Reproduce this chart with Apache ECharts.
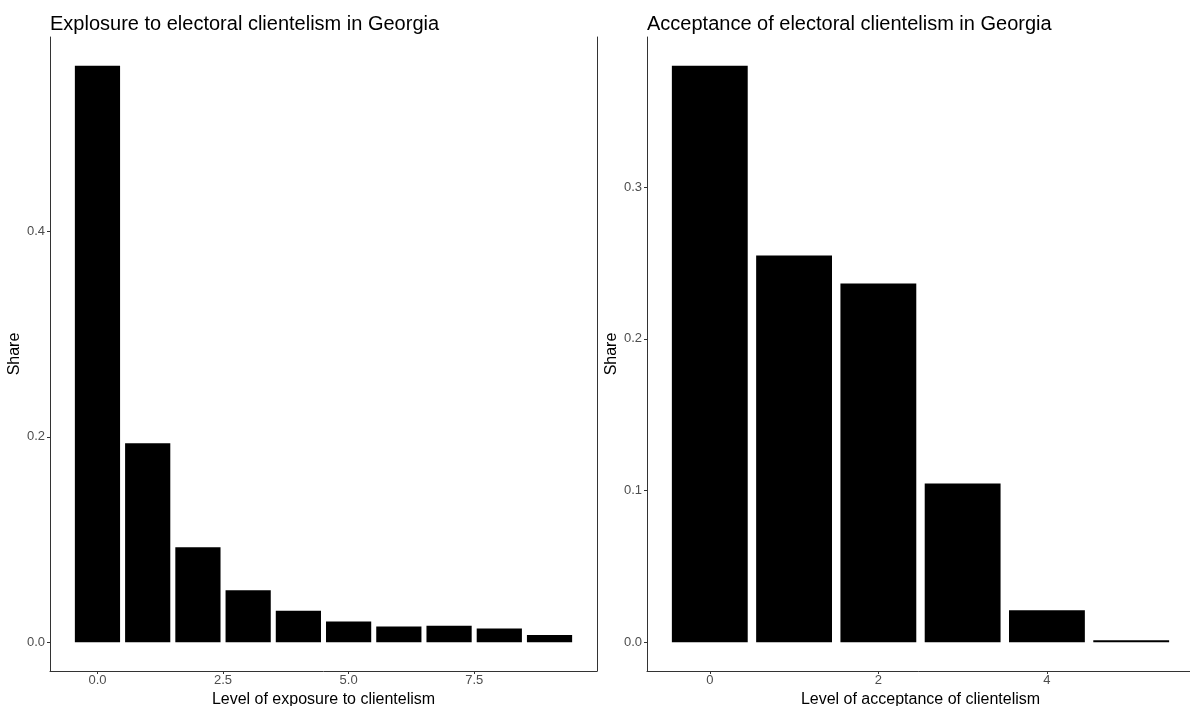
<!DOCTYPE html>
<html>
<head>
<meta charset="utf-8">
<script src="https://cdn.jsdelivr.net/npm/echarts@6/dist/echarts.min.js"></script>
<style>
html,body{margin:0;padding:0;background:#fff;}
#chart{width:1190px;height:706px;}
</style>
</head>
<body>
<div id="chart"></div>
<script>
// Left panel: exposure
const exposureLevels = [0, 1, 2, 3, 4, 5, 6, 7, 8, 9];
const exposureShare = [0.5615, 0.1937, 0.0925, 0.0506, 0.0305, 0.0201, 0.0153, 0.0159, 0.0133, 0.0071];
const exposureXTicks = [0, 2.5, 5, 7.5];
const exposureYTicks = [0, 0.2, 0.4];

// Right panel: acceptance
const acceptanceLevels = [0, 1, 2, 3, 4, 5];
const acceptanceShare = [0.380, 0.255, 0.2365, 0.1047, 0.0211, 0.0013];
const acceptanceXTicks = [0, 2, 4];
const acceptanceYTicks = [0, 0.1, 0.2, 0.3];

const titles = ['Explosure to electoral clientelism in Georgia', 'Acceptance of electoral clientelism in Georgia'];
const xTitles = ['Level of exposure to clientelism', 'Level of acceptance of clientelism'];
const yTitle = 'Share';

const FONT = '"Liberation Sans", Arial, Helvetica, sans-serif';
const BAR_HALF = 0.45;

function pad(lo, hi) { const r = hi - lo; return [lo - 0.05 * r, hi + 0.05 * r]; }

const exX = pad(-BAR_HALF, exposureLevels[exposureLevels.length - 1] + BAR_HALF);
const exY = pad(0, Math.max(...exposureShare));
const acX = pad(-BAR_HALF, acceptanceLevels[acceptanceLevels.length - 1] + BAR_HALF);
const acY = pad(0, Math.max(...acceptanceShare));

function renderBar(params, api) {
  const x = api.value(0), y = api.value(1);
  const p0 = api.coord([x - BAR_HALF, y]);
  const p1 = api.coord([x + BAR_HALF, 0]);
  return {
    type: 'rect',
    shape: { x: p0[0], y: p0[1], width: p1[0] - p0[0], height: p1[1] - p0[1] },
    style: { fill: '#000000' }
  };
}

function xAxisDef(gridIndex, ext, ticks, decimals, name) {
  return {
    type: 'value', gridIndex: gridIndex, min: ext[0], max: ext[1],
    name: name, nameLocation: 'middle', nameGap: 19,
    nameTextStyle: { fontFamily: FONT, fontSize: 16, color: '#000' },
    axisLine: { show: true, onZero: false, lineStyle: { color: '#333', width: 1 } },
    axisTick: { show: true, customValues: ticks, length: 3, lineStyle: { color: '#333' } },
    axisLabel: { show: true, customValues: ticks, margin: 3, fontFamily: FONT, fontSize: 13, color: '#4d4d4d',
      formatter: v => Number(v).toFixed(decimals) },
    splitLine: { show: false }
  };
}
function yAxisDef(gridIndex, ext, ticks, name) {
  return {
    type: 'value', gridIndex: gridIndex, min: ext[0], max: ext[1],
    name: name, nameLocation: 'middle', nameGap: 25,
    nameTextStyle: { fontFamily: FONT, fontSize: 16, color: '#000' },
    axisLine: { show: true, onZero: false, lineStyle: { color: '#333', width: 1 } },
    axisTick: { show: true, customValues: ticks, length: 3, lineStyle: { color: '#333' } },
    axisLabel: { show: true, customValues: ticks, margin: 5, fontFamily: FONT, fontSize: 13, color: '#4d4d4d',
      formatter: v => Number(v).toFixed(1) },
    splitLine: { show: false }
  };
}

const chart = echarts.init(document.getElementById('chart'), null, { renderer: 'canvas' });
chart.setOption({
  backgroundColor: '#ffffff',
  animation: false,
  title: [
    { text: titles[0], left: 45, top: 9, textStyle: { fontFamily: FONT, fontSize: 20, fontWeight: 'normal', color: '#000' } },
    { text: titles[1], left: 642, top: 9, textStyle: { fontFamily: FONT, fontSize: 20, fontWeight: 'normal', color: '#000' } }
  ],
  grid: [
    { left: 50, right: 593, top: 37, bottom: 35, outerBoundsMode: 'none', containLabel: false },
    { left: 647, right: -4, top: 37, bottom: 35, outerBoundsMode: 'none', containLabel: false }
  ],
  xAxis: [
    xAxisDef(0, exX, exposureXTicks, 1, xTitles[0]),
    xAxisDef(1, acX, acceptanceXTicks, 0, xTitles[1])
  ],
  yAxis: [
    yAxisDef(0, exY, exposureYTicks, yTitle),
    yAxisDef(1, acY, acceptanceYTicks, yTitle),
    { type: 'value', gridIndex: 0, position: 'right', min: exY[0], max: exY[1],
      axisLine: { show: true, onZero: false, lineStyle: { color: '#333', width: 1 } },
      axisTick: { show: false }, axisLabel: { show: false }, splitLine: { show: false } }
  ],
  series: [
    { type: 'custom', xAxisIndex: 0, yAxisIndex: 0, renderItem: renderBar,
      data: exposureLevels.map((x, i) => [x, exposureShare[i]]) },
    { type: 'custom', xAxisIndex: 1, yAxisIndex: 1, renderItem: renderBar,
      data: acceptanceLevels.map((x, i) => [x, acceptanceShare[i]]) }
  ]
});
</script>
</body>
</html>
